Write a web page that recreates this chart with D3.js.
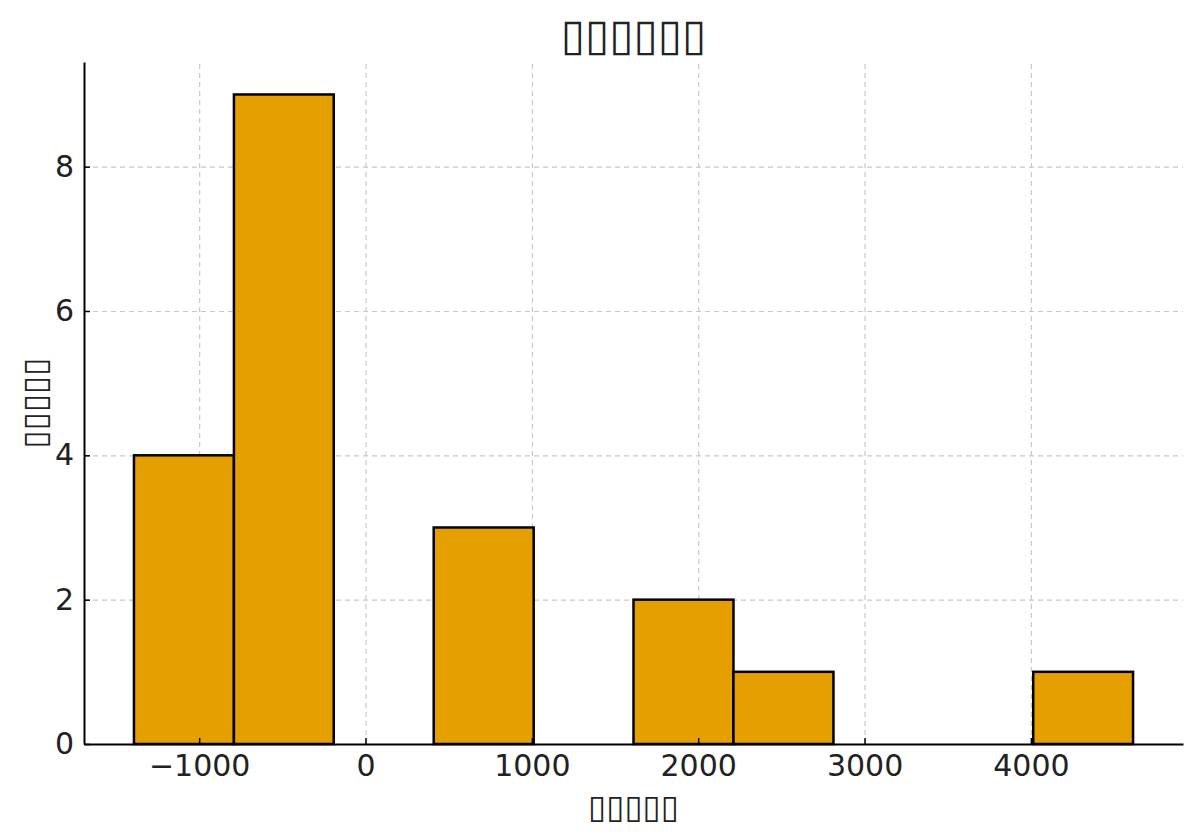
<!DOCTYPE html>
<html>
<head>
<meta charset="utf-8">
<script src="https://cdn.jsdelivr.net/npm/d3@7"></script>
<style>
  body { margin: 0; background: #fff; }
  text { font-family: "DejaVu Sans", sans-serif; fill: #222; }
  .grid line { stroke: #c8c8c8; stroke-dasharray: 5,4; stroke-width: 1.2; }
  .grid path { display: none; }
</style>
</head>
<body>
<div id="chart"></div>
<script>
// histogram bins: edges and counts
const binEdges = [-1392, -791, -191, 410, 1011, 1611, 2212, 2813, 3413, 4014, 4614];
const counts = [4, 9, 0, 3, 0, 2, 1, 0, 0, 1];
const xTicks = [-1000, 0, 1000, 2000, 3000, 4000];
const yTicks = [0, 2, 4, 6, 8];
const titleText = "▯▯▯▯▯▯";
const xLabel = "▯▯▯▯▯";
const yLabel = "▯▯▯▯▯";

let W = 1200, H = 839;
let margin = {top: 62, right: 17, bottom: 95, left: 84},
    width = W - margin.left - margin.right,
    height = H - margin.top - margin.bottom;

let bins = counts.map(function(c, i) {
    return {x0: binEdges[i], x1: binEdges[i + 1], count: c};
});

let span = binEdges[binEdges.length - 1] - binEdges[0];
let x = d3.scaleLinear()
    .domain([binEdges[0] - span * 0.05, binEdges[binEdges.length - 1] + span * 0.05])
    .range([0, width]);
let y = d3.scaleLinear()
    .domain([0, d3.max(counts) * 1.05])
    .range([height, 0]);

let svg = d3.select("#chart").append("svg")
    .attr("width", W)
    .attr("height", H)
  .append("g")
    .attr("transform", "translate(" + margin.left + "," + margin.top + ")");

// grid
svg.append("g")
    .attr("class", "grid")
    .attr("transform", "translate(0," + height + ")")
    .call(d3.axisBottom(x).tickValues(xTicks).tickSize(-height).tickFormat(""));
svg.append("g")
    .attr("class", "grid")
    .call(d3.axisLeft(y).tickValues(yTicks).tickSize(-width).tickFormat(""));

// bars
svg.selectAll(".bar")
    .data(bins.filter(function(d) { return d.count > 0; }))
    .enter().append("rect")
    .attr("class", "bar")
    .attr("x", function(d) { return x(d.x0); })
    .attr("width", function(d) { return x(d.x1) - x(d.x0); })
    .attr("y", function(d) { return y(d.count); })
    .attr("height", function(d) { return height - y(d.count); })
    .attr("fill", "#E69F00")
    .attr("stroke", "#000")
    .attr("stroke-width", 2.5);

// axes
let xAxis = svg.append("g")
    .attr("transform", "translate(0," + height + ")")
    .call(d3.axisBottom(x).tickValues(xTicks).tickSizeInner(-6).tickSizeOuter(0)
        .tickFormat(function(d) { return d < 0 ? "\u2212" + Math.abs(d) : d; }));
let yAxis = svg.append("g")
    .call(d3.axisLeft(y).tickValues(yTicks).tickSizeInner(-6).tickSizeOuter(0));

[xAxis, yAxis].forEach(function(a) {
    a.select(".domain").attr("stroke", "#000").attr("stroke-width", 2);
    a.selectAll(".tick line").attr("stroke", "#000").attr("stroke-width", 1.5);
    a.selectAll(".tick text").style("font-size", "30px").attr("fill", "#222")
        .style("font-family", "DejaVu Sans, sans-serif");
});
xAxis.selectAll(".tick text").attr("y", 11);
yAxis.selectAll(".tick text").attr("x", -10);

// labels
svg.append("text")
    .attr("x", width / 2)
    .attr("y", -12)
    .style("text-anchor", "middle")
    .style("font-size", "44px")
    .text(titleText);

svg.append("text")
    .attr("x", width / 2)
    .attr("y", height + 74)
    .style("text-anchor", "middle")
    .style("font-size", "33px")
    .text(xLabel);

svg.append("text")
    .attr("transform", "rotate(-90)")
    .attr("x", -height / 2)
    .attr("y", -margin.left + 46)
    .style("text-anchor", "middle")
    .style("font-size", "33px")
    .text(yLabel);
</script>
</body>
</html>
